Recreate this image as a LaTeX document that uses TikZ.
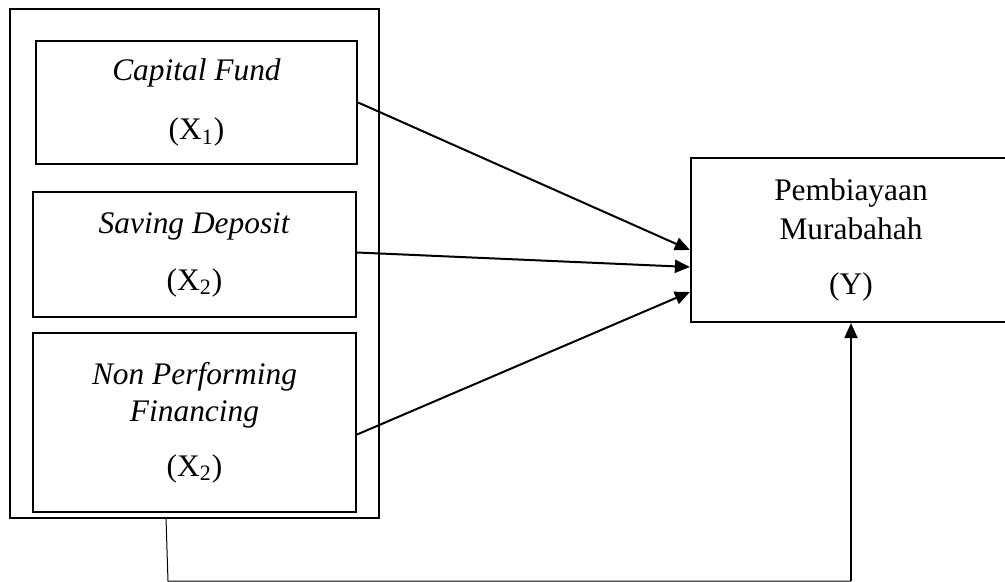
\documentclass[tikz,border=0pt]{standalone}
\usepackage{fontspec}
\setmainfont{Liberation Serif}
\usetikzlibrary{arrows.meta}

\begin{document}
\begin{tikzpicture}[x=0.5pt, y=-0.5pt, >={Triangle[length=7.5pt,width=6.5pt]},
  box/.style={draw, line width=1.1pt, align=center, inner sep=0pt, font=\fontsize{15.7}{19.5}\selectfont},
  link/.style={->, line width=1pt}]
\useasboundingbox (0,0) rectangle (1005,582);

\node[box, minimum width=184.5pt, minimum height=254.5pt] (grp) at (194.5,263.5) {};
\node[box, minimum width=160.5pt, minimum height=61.5pt] (x1) at (196.5,102.5) {\textit{Capital Fund}\\[10pt](X\textsubscript{1})};
\node[box, minimum width=161.5pt, minimum height=62.5pt] (x2) at (194.5,254.5) {\textit{Saving Deposit}\\[9pt](X\textsubscript{2})};
\node[box, minimum width=161.5pt, minimum height=89.5pt] (x3) at (194.5,422.5) {\textit{Non Performing}\\[-1pt]\textit{Financing}\\[8pt](X\textsubscript{2})};
\node[box, minimum width=160pt, minimum height=82pt] (y) at (851,240) {Pembiayaan\\Murabahah\\[8pt](Y)};

\draw[link] (x1.east) -- ([yshift=-5pt]y.west);
\draw[link] ([yshift=1pt]x2.east) -- ([yshift=-13.5pt]y.west);
\draw[link] ([yshift=-6pt]x3.east) -- ([yshift=-26pt]y.west);

\coordinate (d1) at (166,518);
\coordinate (d2) at (168,581);
\draw[line width=0.5pt] (d1) -- (d2) -- (d2 -| y.south);
\draw[link] (d2 -| y.south) -- (y.south);
\end{tikzpicture}
\end{document}
